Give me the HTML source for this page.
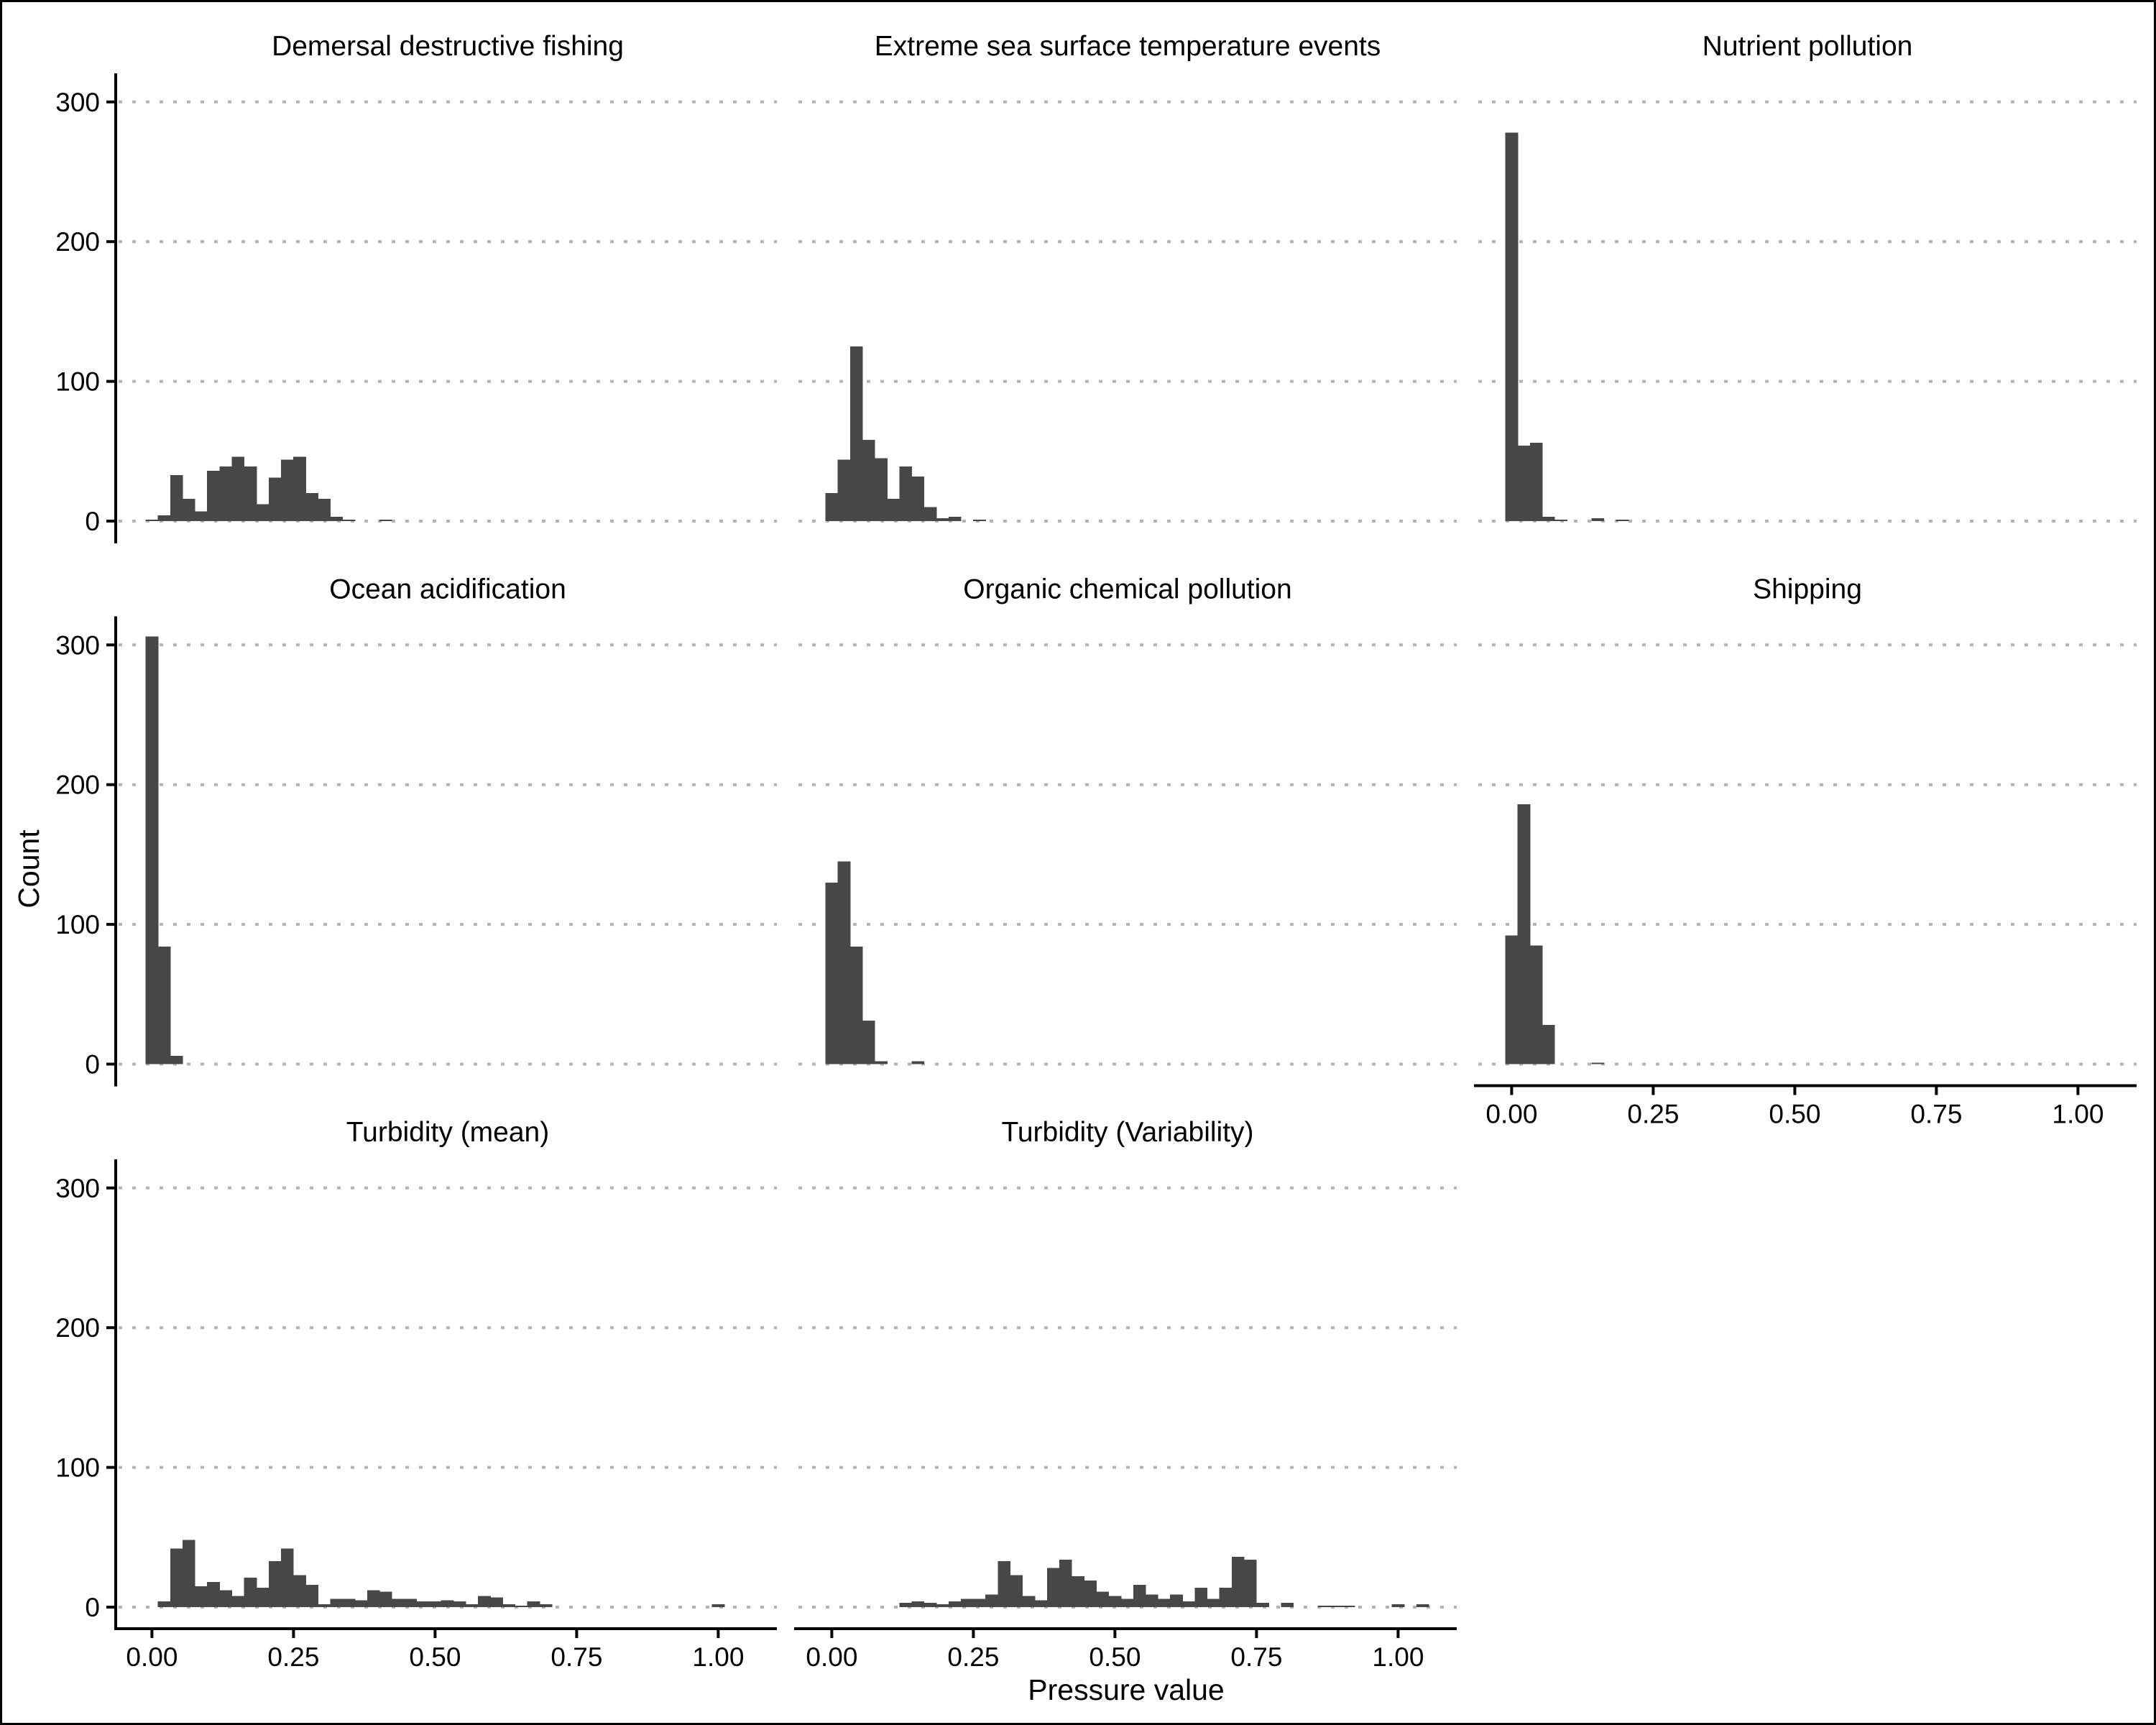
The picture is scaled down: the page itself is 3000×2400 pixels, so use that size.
<!DOCTYPE html>
<html><head><meta charset="utf-8"><style>
html,body{margin:0;padding:0;background:#fff;}
svg{display:block;font-family:"Liberation Sans",Arial,sans-serif;}
</style></head><body>
<svg id="chart" width="3000" height="2400" viewBox="0 0 3000 2400" xmlns="http://www.w3.org/2000/svg">
<rect x="1.5" y="1.5" width="2997" height="2397" fill="#fff" stroke="#000" stroke-width="3"/>
<g id="panels"></g>
<text x="0" y="0" transform="translate(54,1209) rotate(-90)" text-anchor="middle" font-size="41" fill="#000">Count</text>
<text x="1567" y="2365" text-anchor="middle" font-size="41" fill="#000">Pressure value</text>
</svg>
<script>
const panelTitles = ["Demersal destructive fishing","Extreme sea surface temperature events","Nutrient pollution","Ocean acidification","Organic chemical pollution","Shipping","Turbidity (mean)","Turbidity (Variability)"];
const demersal = [1,4,33,16,7,36,39,46,39,12,31,44,46,20,16,3,1,0,0,1];
const extremeSst = [20,44,125,58,45,16,39,32,10,2,3,0,1];
const nutrient = [278,54,56,3,1,0,0,2,0,1];
const oceanAcid = [306,84,6];
const organic = [130,145,84,31,2,0,0,2];
const shipping = [92,186,85,28,0,0,0,1];
const turbMean = [0,4,42,48,15,18,12,8,21,14,33,42,23,16,2,6,6,5,12,11,6,6,4,4,5,4,2,8,7,2,1,4,2,0,0,0,0,0,0,0,0,0,0,0,0,0,2];
const turbVar = [0,0,0,0,0,0,3,4,3,2,4,6,6,9,33,23,8,5,28,34,22,19,11,8,6,16,9,6,9,4,14,6,14,36,34,3,0,3,0,0,1,1,1,0,0,0,2,0,2];
const yTicks = [0,100,200,300];
const xTicks = [0,0.25,0.5,0.75,1];
const xTickLabels = ["0.00","0.25","0.50","0.75","1.00"];
const binWidth = 1/46;

const series = [demersal,extremeSst,nutrient,oceanAcid,organic,shipping,turbMean,turbVar];
const NS = "http://www.w3.org/2000/svg";
const root = document.getElementById("panels");
const COLW = 946, ROWH = 755.5, PX = 788, PY = 1.944;
function mk(tag, attrs, parent){const e=document.createElementNS(NS,tag);for(const k in attrs)e.setAttribute(k,attrs[k]);parent.appendChild(e);return e;}
function xScale(col,v){return 211.4 + col*COLW + v*PX;}
function yScale(row,c){return 725 + row*ROWH - c*PY;}

series.forEach((data,i)=>{
  const col=i%3,row=Math.floor(i/3);
  const g=mk("g",{},root);
  
  
  const left=161+col*COLW, right=1081+col*COLW, y0=yScale(row,0);
  const t=mk("text",{x:(left+right)/2+2,y:y0-648,"text-anchor":"middle","font-size":"39",fill:"#000"},g);
  t.textContent=panelTitles[i];
  
  
  yTicks.forEach(v=>{
    const l=mk("line",{x1:left+4,x2:right,y1:yScale(row,v),y2:yScale(row,v),stroke:"#b3b3b3","stroke-width":"4","stroke-dasharray":"5 14"},g);
    
    
  });
  data.forEach((c,k)=>{
    if(c<=0) return;
    const xl=xScale(col,(k-0.5)*binWidth), xr=xScale(col,(k+0.5)*binWidth);
    const yt=yScale(row,c);
    const r=mk("rect",{x:xl-0.3,y:yt,width:xr-xl+0.6,height:y0-yt,fill:"#474747","shape-rendering":"crispEdges"},g);
    
    
  });
  if(col===0){
    const a=mk("line",{x1:161,x2:161,y1:y0-623,y2:y0+31,stroke:"#000","stroke-width":"4"},g);
    
    
    yTicks.forEach(v=>{
      const yy=yScale(row,v);
      const tk=mk("line",{x1:148,x2:161,y1:yy,y2:yy,stroke:"#000","stroke-width":"4"},g);
      
      
      const tl=mk("text",{x:139,y:yy+13,"text-anchor":"end","font-size":"37",fill:"#000"},g);
      tl.textContent=String(v);
      
      
    });
  }
  if(row===2 || i===5){
    const ay=y0+30;
    const a=mk("line",{x1:left-2,x2:right,y1:ay,y2:ay,stroke:"#000","stroke-width":"4"},g);
    
    
    xTicks.forEach((v,j)=>{
      const xx=xScale(col,v);
      const tk=mk("line",{x1:xx,x2:xx,y1:ay,y2:ay+13,stroke:"#000","stroke-width":"4"},g);
      
      
      const tl=mk("text",{x:xx,y:ay+52,"text-anchor":"middle","font-size":"37",fill:"#000"},g);
      tl.textContent=xTickLabels[j];
      
      
    });
  }
});
</script>
</body></html>
